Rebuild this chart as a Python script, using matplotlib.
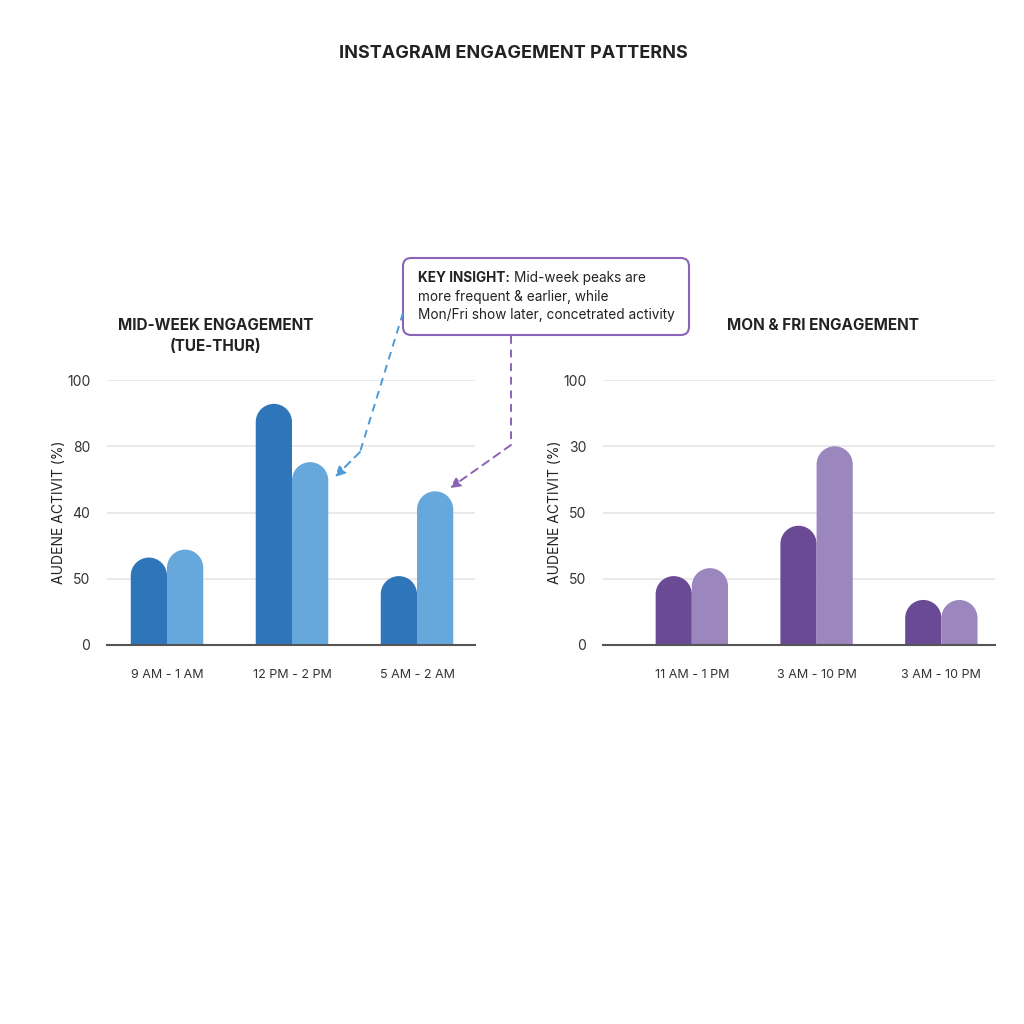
import matplotlib
matplotlib.use("Agg")
import numpy as np
import matplotlib.pyplot as plt
from matplotlib.patches import FancyBboxPatch, PathPatch
from matplotlib.path import Path
from matplotlib.lines import Line2D

plt.rcParams["font.family"] = ["Inter", "DejaVu Sans"]

# data
mid_groups = ["9 AM - 1 AM", "12 PM - 2 PM", "5 AM - 2 AM"]
mid_dark = [33, 91, 26]
mid_light = [36, 69, 58]
monfri_groups = ["11 AM - 1 PM", "3 AM - 10 PM", "3 AM - 10 PM"]
monfri_dark = [26, 45, 17]
monfri_light = [29, 75, 17]
ytick_vals = [0, 25, 50, 75, 100]
mid_ytick_labels = ["0", "50", "40", "80", "100"]
monfri_ytick_labels = ["0", "50", "50", "30", "100"]

BLUE_DARK, BLUE_LIGHT = "#2E75BA", "#66A8DC"
PURPLE_DARK, PURPLE_LIGHT = "#6A4A95", "#9C86BE"
BAR_W = 0.29

W = H = 1024
fig = plt.figure(figsize=(10.24, 10.24), dpi=100)


def px(x, y):
    return x / W, 1 - y / H


def rounded_bars(ax, xs, heights, color):
    # one path per bar: straight sides, flat bottom, half-round top on screen
    pos = ax.get_position()
    x0, x1 = ax.get_xlim()
    y0, y1 = ax.get_ylim()
    aspect = ((y1 - y0) / (pos.height * H)) / ((x1 - x0) / (pos.width * W))
    r = BAR_W / 2
    ry = r * aspect
    arc = Path.arc(0, 180)
    for x, h in zip(xs, heights):
        verts = arc.vertices * [r, ry] + [x, h - ry]
        verts = np.vstack([verts, [[x - r, 0], [x + r, 0], [x + r, h - ry]]])
        codes = list(arc.codes) + [Path.LINETO, Path.LINETO, Path.CLOSEPOLY]
        ax.add_patch(PathPatch(Path(verts, codes), fc=color, ec="none", lw=0, zorder=2))


def make_axes(rect, xlim, groups, dark, light, ylabels, c_dark, c_light):
    ax = fig.add_axes(rect)
    ax.set_xlim(*xlim)
    ax.set_ylim(0, 100)
    xs = list(range(len(groups)))
    rounded_bars(ax, [x - BAR_W / 2 for x in xs], dark, c_dark)
    rounded_bars(ax, [x + BAR_W / 2 for x in xs], light, c_light)
    ax.set_xticks(xs)
    ax.set_xticklabels(groups, fontsize=9, color="#333333")
    ax.set_yticks(ytick_vals)
    ax.set_yticklabels(ylabels, fontsize=10, color="#333333")
    ax.tick_params(axis="both", length=0)
    ax.tick_params(axis="x", pad=17)
    ax.tick_params(axis="y", pad=12)
    for s in ["top", "right", "left"]:
        ax.spines[s].set_visible(False)
    ax.spines["bottom"].set_color("#555555")
    ax.spines["bottom"].set_linewidth(1.5)
    ax.spines["bottom"].set_zorder(3)
    ax.yaxis.grid(True, color="#e6e6e6", lw=1.2)
    ax.set_axisbelow(True)
    ax.set_ylabel("AUDENE ACTIVIT (%)", fontsize=10, color="#222222", labelpad=1)
    return ax


ax1 = make_axes([107 / W, (H - 645) / H, 368 / W, 265 / H], (-0.48, 2.464),
                mid_groups, mid_dark, mid_light, mid_ytick_labels, BLUE_DARK, BLUE_LIGHT)
ax2 = make_axes([603 / W, (H - 645) / H, 392 / W, 265 / H], (-0.712, 2.43),
                monfri_groups, monfri_dark, monfri_light, monfri_ytick_labels,
                PURPLE_DARK, PURPLE_LIGHT)

# titles
fig.text(*px(513, 53), "INSTAGRAM ENGAGEMENT PATTERNS", ha="center", va="center",
         fontsize=13, weight="bold", color="#222222")
fig.text(*px(216, 336), "MID-WEEK ENGAGEMENT\n(TUE-THUR)", ha="center", va="center",
         fontsize=11, weight="bold", color="#222222", linespacing=1.5)
fig.text(*px(823, 326), "MON & FRI ENGAGEMENT", ha="center", va="center",
         fontsize=11, weight="bold", color="#222222")

# insight box
bx0, by0 = px(403, 335)
bx1, by1 = px(689, 258)
box = FancyBboxPatch((bx0, by0), bx1 - bx0, by1 - by0,
                     boxstyle="round,pad=0,rounding_size=0.008",
                     transform=fig.transFigure, fc="white", ec="#8B63B8", lw=1.5)
fig.add_artist(box)

renderer = fig.canvas.get_renderer()
t1 = fig.text(*px(418, 278), "KEY INSIGHT:", ha="left", va="center",
              fontsize=9.8, weight="bold", color="#222222")
bb = t1.get_window_extent(renderer)
fig.text(bb.x1 / W + 4 / W, px(0, 278)[1], "Mid-week peaks are", ha="left", va="center",
         fontsize=9.8, color="#222222")
fig.text(*px(418, 297), "more frequent & earlier, while", ha="left", va="center",
         fontsize=9.8, color="#222222")
fig.text(*px(418, 315), "Mon/Fri show later, concetrated activity", ha="left", va="center",
         fontsize=9.8, color="#222222")

# dashed connector arrows
blue_path = [px(403, 313), px(360, 452)]
fig.add_artist(Line2D([p[0] for p in blue_path], [p[1] for p in blue_path],
                      transform=fig.transFigure, color="#4C9BD9", lw=1.4, ls=(0, (4, 3))))
ax1.annotate("", xy=(1.344, 63.4), xycoords="data",
             xytext=px(360, 452), textcoords="figure fraction",
             arrowprops=dict(arrowstyle="-|>,head_length=0.6,head_width=0.3",
                             color="#4C9BD9", lw=1.4, ls=(0, (4, 3)),
                             shrinkA=0, shrinkB=0))

purple_path = [px(511, 336), px(511, 445)]
fig.add_artist(Line2D([p[0] for p in purple_path], [p[1] for p in purple_path],
                      transform=fig.transFigure, color="#8B63B8", lw=1.4, ls=(0, (4, 3))))
ax1.annotate("", xy=(2.264, 59.2), xycoords="data",
             xytext=px(511, 445), textcoords="figure fraction",
             arrowprops=dict(arrowstyle="-|>,head_length=0.6,head_width=0.3",
                             color="#8B63B8", lw=1.4, ls=(0, (4, 3)),
                             shrinkA=0, shrinkB=0))

fig.savefig("out.png", dpi=100, facecolor="white")
